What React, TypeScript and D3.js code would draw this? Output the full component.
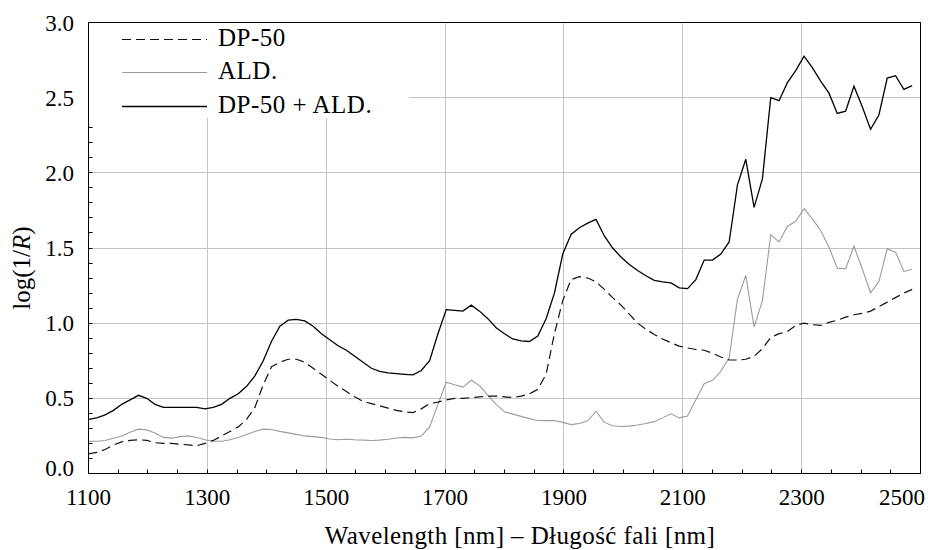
import React, { useRef, useEffect } from 'react';
import * as d3 from 'd3';

// sampling grid, nm
const wavelengths = [
  1100, 1114, 1128, 1142, 1156, 1170, 1184, 1198, 1212, 1226,
  1240, 1254, 1268, 1282, 1296, 1310, 1324, 1338, 1352, 1366,
  1380, 1394, 1408, 1422, 1436, 1450, 1464, 1478, 1492, 1506,
  1520, 1534, 1548, 1562, 1576, 1590, 1604, 1618, 1632, 1646,
  1660, 1674, 1688, 1702, 1716, 1730, 1744, 1758, 1772, 1786,
  1800, 1814, 1828, 1842, 1856, 1870, 1884, 1898, 1912, 1926,
  1940, 1954, 1968, 1982, 1996, 2010, 2024, 2038, 2052, 2066,
  2080, 2094, 2108, 2122, 2136, 2150, 2164, 2178, 2192, 2206,
  2220, 2234, 2248, 2262, 2276, 2290, 2304, 2318, 2332, 2346,
  2360, 2374, 2388, 2402, 2416, 2430, 2444, 2458, 2472, 2486,
];

const dp50 = [
  0.13, 0.14, 0.16, 0.19, 0.21, 0.22, 0.225, 0.22, 0.205, 0.2,
  0.2, 0.195, 0.19, 0.185, 0.2, 0.22, 0.25, 0.28, 0.31, 0.36,
  0.44, 0.59, 0.71, 0.74, 0.76, 0.76, 0.74, 0.7, 0.66, 0.62,
  0.58, 0.545, 0.51, 0.48, 0.465, 0.45, 0.435, 0.42, 0.41, 0.405,
  0.43, 0.465, 0.475, 0.49, 0.5, 0.5, 0.505, 0.51, 0.515, 0.515,
  0.51, 0.505, 0.515, 0.53, 0.56, 0.66, 0.93, 1.15, 1.29, 1.31,
  1.3, 1.275, 1.225, 1.17, 1.12, 1.06, 1.0, 0.96, 0.925, 0.895,
  0.87, 0.847, 0.835, 0.825, 0.82, 0.8, 0.775, 0.755, 0.755, 0.76,
  0.78, 0.83, 0.905, 0.93, 0.945, 0.985, 1.0, 0.99, 0.985, 1.005,
  1.02, 1.04, 1.056, 1.065, 1.08, 1.11, 1.14, 1.17, 1.2, 1.225,
];

const ald = [
  0.215, 0.215, 0.22, 0.235, 0.25, 0.275, 0.295, 0.29, 0.27, 0.24,
  0.235, 0.245, 0.25, 0.24, 0.225, 0.215, 0.215, 0.225, 0.24, 0.26,
  0.28, 0.295, 0.293, 0.28, 0.27, 0.26, 0.25, 0.245, 0.24, 0.23,
  0.225, 0.228, 0.224, 0.222, 0.22, 0.222, 0.228, 0.236, 0.24, 0.237,
  0.25, 0.31, 0.46, 0.607, 0.59, 0.575, 0.62, 0.585, 0.52, 0.46,
  0.41, 0.395, 0.38, 0.365, 0.353, 0.352, 0.352, 0.34, 0.325, 0.333,
  0.35, 0.414, 0.34, 0.318, 0.313, 0.315, 0.323, 0.333, 0.345, 0.37,
  0.397, 0.37, 0.383, 0.49, 0.597, 0.62, 0.68, 0.77, 1.16, 1.317,
  0.975, 1.15, 1.588, 1.54, 1.643, 1.678, 1.761, 1.694, 1.617, 1.505,
  1.366, 1.362, 1.512, 1.362, 1.202, 1.277, 1.495, 1.472, 1.344, 1.359,
];

const dp50Ald = [
  0.36, 0.37, 0.39, 0.42, 0.46, 0.49, 0.52, 0.5, 0.46, 0.44,
  0.44, 0.44, 0.44, 0.44, 0.43, 0.44, 0.46, 0.5, 0.53, 0.58,
  0.65, 0.75, 0.88, 0.98, 1.02, 1.025, 1.015, 0.98, 0.93, 0.89,
  0.85, 0.82, 0.78, 0.74, 0.7, 0.68, 0.67, 0.665, 0.66, 0.656,
  0.685, 0.75, 0.93, 1.09, 1.085, 1.08, 1.12, 1.08, 1.03, 0.97,
  0.93, 0.895, 0.882, 0.878, 0.915, 1.03, 1.2, 1.46, 1.59, 1.635,
  1.665, 1.69, 1.58, 1.5, 1.44, 1.39, 1.35, 1.315, 1.285, 1.275,
  1.268, 1.235, 1.23, 1.29, 1.42, 1.42, 1.46, 1.54, 1.92, 2.09,
  1.77, 1.96, 2.5, 2.48, 2.6, 2.68, 2.776, 2.7, 2.61, 2.53,
  2.395, 2.41, 2.576, 2.44, 2.29, 2.385, 2.63, 2.646, 2.555, 2.58,
];

const xTicks = [1100, 1300, 1500, 1700, 1900, 2100, 2300, 2500];
const yTicks = [0, 0.5, 1, 1.5, 2, 2.5, 3];
const legendLabels = ['DP-50', 'ALD.', 'DP-50 + ALD.'];

const App = () => {
  const svgRef = useRef<SVGSVGElement>(null);

  useEffect(() => {
    const svg = d3.select(svgRef.current);
    svg.selectAll('*').remove();

    const font = "'Liberation Serif', 'DejaVu Serif', serif";
    const left = 88.5, right = 920.5, top = 22.5, bottom = 473.5;

    const x = d3.scaleLinear().domain([1100, 2500]).range([left, right]);
    const y = d3.scaleLinear().domain([0, 3]).range([bottom, top]);
    const snap = (v: number) => Math.round(v - 0.5) + 0.5;

    const g = svg.append('g').style('font-family', font);

    // grid
    g.selectAll('line.gx')
      .data(xTicks.slice(1, -1))
      .enter().append('line')
      .attr('x1', d => snap(x(d))).attr('x2', d => snap(x(d)))
      .attr('y1', top).attr('y2', bottom)
      .attr('stroke', '#c4c4c4').attr('stroke-width', 1);

    g.selectAll('line.gy')
      .data(yTicks.slice(1, -1))
      .enter().append('line')
      .attr('x1', left).attr('x2', right)
      .attr('y1', d => snap(y(d))).attr('y2', d => snap(y(d)))
      .attr('stroke', '#c4c4c4').attr('stroke-width', 1);

    // minor + major ticks, pointing inward
    const xMinor = d3.range(1100, 2501, 50);
    g.selectAll('line.tx')
      .data(xMinor)
      .enter().append('line')
      .attr('x1', d => snap(x(d))).attr('x2', d => snap(x(d)))
      .attr('y1', bottom).attr('y2', bottom - 4)
      .attr('stroke', '#000').attr('stroke-width', 1);

    const yMinor = d3.range(0, 3.001, 0.1);
    g.selectAll('line.ty')
      .data(yMinor)
      .enter().append('line')
      .attr('x1', left).attr('x2', left + 4)
      .attr('y1', d => snap(y(d))).attr('y2', d => snap(y(d)))
      .attr('stroke', '#000').attr('stroke-width', 1);

    // series
    const line = d3.line<number>()
      .x((_, i) => x(wavelengths[i]))
      .y(d => y(d));

    g.append('path').datum(ald)
      .attr('fill', 'none').attr('stroke', '#9c9c9c').attr('stroke-width', 1.1)
      .attr('d', line);

    g.append('path').datum(dp50)
      .attr('fill', 'none').attr('stroke', '#111').attr('stroke-width', 1.2)
      .attr('stroke-dasharray', '9,5')
      .attr('d', line);

    g.append('path').datum(dp50Ald)
      .attr('fill', 'none').attr('stroke', '#000').attr('stroke-width', 1.3)
      .attr('d', line);

    // legend
    g.append('rect')
      .attr('x', left + 0.5).attr('y', top + 0.5)
      .attr('width', 320).attr('height', 95)
      .attr('fill', '#fff');

    const legendStyles = [
      { stroke: '#111', dash: '9,5', width: 1.2 },
      { stroke: '#9c9c9c', dash: null, width: 1.1 },
      { stroke: '#000', dash: null, width: 1.3 },
    ];
    const rowY = [39.5, 72.5, 106.5];

    legendLabels.forEach((label, i) => {
      g.append('line')
        .attr('x1', 122).attr('x2', 207)
        .attr('y1', rowY[i]).attr('y2', rowY[i])
        .attr('stroke', legendStyles[i].stroke)
        .attr('stroke-width', legendStyles[i].width)
        .attr('stroke-dasharray', legendStyles[i].dash);
      g.append('text')
        .attr('x', 218).attr('y', rowY[i] + 6)
        .attr('font-size', 25)
        .attr('letter-spacing', 0.5)
        .attr('fill', '#000')
        .text(label);
    });

    // frame
    g.append('rect')
      .attr('x', left).attr('y', top)
      .attr('width', right - left).attr('height', bottom - top)
      .attr('fill', 'none').attr('stroke', '#000').attr('stroke-width', 1);

    // tick labels
    g.selectAll('text.xl')
      .data(xTicks)
      .enter().append('text')
      .attr('x', (d, i) => i === xTicks.length - 1 ? 925 : x(d))
      .attr('y', 505)
      .attr('text-anchor', (d, i) => i === xTicks.length - 1 ? 'end' : 'middle')
      .attr('font-size', 23)
      .attr('fill', '#000')
      .text(d => d);

    g.selectAll('text.yl')
      .data(yTicks)
      .enter().append('text')
      .attr('x', 74)
      .attr('y', d => (d === 0 ? y(d) - 6 : y(d)) + 8)
      .attr('text-anchor', 'end')
      .attr('font-size', 23)
      .attr('fill', '#000')
      .text(d => d.toFixed(1));

    // axis titles
    g.append('text')
      .attr('x', 520).attr('y', 544)
      .attr('text-anchor', 'middle')
      .attr('font-size', 25)
      .attr('letter-spacing', 0.4)
      .attr('fill', '#000')
      .text('Wavelength [nm] – Długość fali [nm]');

    const yTitle = g.append('text')
      .attr('transform', 'translate(30,268) rotate(-90)')
      .attr('text-anchor', 'middle')
      .attr('font-size', 25)
      .attr('fill', '#000');
    yTitle.append('tspan').text('log(1/');
    yTitle.append('tspan').attr('font-style', 'italic').text('R');
    yTitle.append('tspan').text(')');
  }, []);

  return (
    <svg
      ref={svgRef}
      width={928}
      height={550}
      style={{ position: 'absolute', left: 0, top: 0, background: '#fff' }}
    ></svg>
  );
};

export default App;
